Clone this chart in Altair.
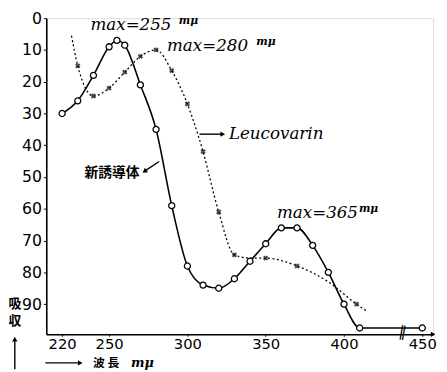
import altair as alt
import pandas as pd

# 新誘導体 (solid line, open circles)
solid_wl = [220, 230, 240, 250, 255, 260, 270, 280, 290, 300, 310, 320, 330, 340, 350, 360, 370, 380, 390, 400, 410, 450]
solid_abs = [30, 26, 18, 9, 7, 8.5, 21, 35, 59, 78, 84, 85, 82, 76.5, 71, 66, 66, 71.5, 80, 90, 97.5, 97.5]

# Leucovarin (dotted line)
leu_wl = [226, 230, 240, 250, 260, 270, 280, 290, 300, 310, 320, 330, 340, 350, 370, 390, 408, 414]
leu_abs = [5.5, 15, 24.5, 22, 17, 12, 10, 16.5, 27, 42, 61, 74.5, 75.5, 75.5, 78, 83, 90, 92]
leu_mark_wl = [230, 240, 250, 260, 270, 280, 290, 300, 310, 320, 330, 350, 370, 408]
leu_mark_abs = [15, 24.5, 22, 17, 12, 10, 16.5, 27, 42, 61, 74.5, 75.5, 78, 90]

x_ticks = [220, 250, 300, 350, 400, 450]
y_ticks = [0, 10, 20, 30, 40, 50, 60, 70, 80, 90]

# annotations (data units)
ann_text = ["max=255", "max=280", "max=365", "Leucovarin"]
ann_wl = [238.1, 287, 357.2, 326.5]
ann_abs = [2.3, 8.7, 61.2, 36.5]
unit_text = ["mμ", "mμ", "mμ"]
unit_wl = [294.5, 344, 409.5]
unit_abs = [1.0, 7.4, 60.0]

solid = pd.DataFrame({"wl": solid_wl, "abs": solid_abs})
leu = pd.DataFrame({"wl": leu_wl, "abs": leu_abs})
leu_m = pd.DataFrame({"wl": leu_mark_wl, "abs": leu_mark_abs})
ann = pd.DataFrame({"wl": ann_wl, "abs": ann_abs, "t": ann_text})
units = pd.DataFrame({"wl": unit_wl, "abs": unit_abs, "t": unit_text})

FONT = "DejaVu Sans"
CJK = "Noto Sans CJK JP"

x = alt.X("wl:Q", scale=alt.Scale(domain=[209.9, 456.9], nice=False, zero=False),
          axis=alt.Axis(values=x_ticks, title=None, grid=False, labelFontSize=15,
                        labelFont=FONT, labelColor="black", domainColor="black",
                        domainWidth=1.6, tickColor="black", tickSize=2,
                        labelPadding=0, labelFlush=False))
y = alt.Y("abs:Q", scale=alt.Scale(domain=[0, 99.5], reverse=True, nice=False, zero=False),
          axis=alt.Axis(values=y_ticks, title=None, grid=False, labelFontSize=16,
                        labelFont=FONT, labelColor="black", domainColor="black",
                        domainWidth=1.6, tickColor="black", tickSize=3,
                        labelPadding=2))

base_solid = alt.Chart(solid)
solid_line = base_solid.mark_line(color="black", strokeWidth=1.6, interpolate="monotone").encode(x=x, y=y)
solid_pts = base_solid.mark_point(shape="circle", filled=True, fill="white", stroke="black",
                                  strokeWidth=1.3, size=38, opacity=1).encode(x=x, y=y)

leu_line = alt.Chart(leu).mark_line(color="black", strokeWidth=1.3, strokeDash=[2, 2.5],
                                    interpolate="monotone").encode(x=x, y=y)
leu_pts = alt.Chart(leu_m).mark_point(shape="cross", filled=True, color="black", size=30,
                                      angle=45).encode(x=x, y=y)

ann_layer = alt.Chart(ann).mark_text(align="left", baseline="middle", fontSize=17,
                                     fontStyle="italic", font="DejaVu Serif", color="black").encode(
    x=x, y=y, text="t:N")
unit_layer = alt.Chart(units).mark_text(align="left", baseline="middle", fontSize=11,
                                        fontStyle="italic", fontWeight="bold", font="DejaVu Serif",
                                        color="black").encode(x=x, y=y, text="t:N")

# label of the new derivative
cjk = pd.DataFrame({"wl": [251.9], "abs": [48.8], "t": ["新誘導体"]})
cjk_layer = alt.Chart(cjk).mark_text(align="center", baseline="middle", fontSize=14, fontWeight="bold",
                                     font=CJK, color="black").encode(x=x, y=y, text="t:N")

# arrow shafts (start/end in data units) and heads
shaft_x = [307.7, 282.0, 209.3, 189.8]
shaft_x2 = [322.0, 273.2, 230.6, 189.8]
shaft_y = [36.5, 45.1, 108.5, 110.5]
shaft_y2 = [36.5, 48.0, 108.5, 101.5]
head_x = [322.6, 272.6, 231.6, 189.8, 456.9]
head_y = [36.5, 48.2, 108.5, 101.0, 99.5]
head_ang = [90, 236, 90, 0, 90]

shafts = pd.DataFrame({"wl": shaft_x, "wl2": shaft_x2, "abs": shaft_y, "abs2": shaft_y2})
heads = pd.DataFrame({"wl": head_x, "abs": head_y, "ang": head_ang})
shaft_layer = alt.Chart(shafts).mark_rule(color="black", strokeWidth=1.4).encode(
    x=x, y=y, x2="wl2:Q", y2="abs2:Q")
head_layer = alt.Chart(heads).mark_point(shape="triangle-up", filled=True, color="black", size=30,
                                         opacity=1).encode(
    x=x, y=y, angle=alt.Angle("ang:Q", scale=None))

# axis labels outside the plot
ylab = pd.DataFrame({"wl": [189.8, 189.8], "abs": [89.9, 95.3], "t": ["吸", "収"]})
ylab_layer = alt.Chart(ylab).mark_text(align="center", baseline="middle", fontSize=13, fontWeight="bold",
                                       font=CJK, color="black").encode(x=x, y=y, text="t:N")
xlab = pd.DataFrame({"wl": [248.1], "abs": [108.6], "t": ["波 長"]})
xlab_layer = alt.Chart(xlab).mark_text(align="center", baseline="middle", fontSize=12, fontWeight="bold",
                                       font=CJK, color="black").encode(x=x, y=y, text="t:N")
xunit = pd.DataFrame({"wl": [271.3], "abs": [108.5], "t": ["mμ"]})
xunit_layer = alt.Chart(xunit).mark_text(align="center", baseline="middle", fontSize=13, fontWeight="bold",
                                         fontStyle="italic", font="DejaVu Serif",
                                         color="black").encode(x=x, y=y, text="t:N")

brk = pd.DataFrame({"wl": [437.5], "abs": [98.6], "t": ["‖"]})
brk_layer = alt.Chart(brk).mark_text(align="center", baseline="middle", fontSize=15, angle=10,
                                     font=FONT, color="black").encode(x=x, y=y, text="t:N")

chart = alt.layer(leu_line, leu_pts, solid_line, solid_pts, ann_layer, unit_layer, cjk_layer,
                  shaft_layer, head_layer, ylab_layer, xlab_layer, xunit_layer, brk_layer).properties(
    width=394, height=322, autosize="none",
    padding={"left": 39, "top": 7, "right": 6, "bottom": 35}
).configure_view(stroke=None).configure(background="white")

chart.save("out.html", embed_options={"renderer": "svg", "actions": False})
